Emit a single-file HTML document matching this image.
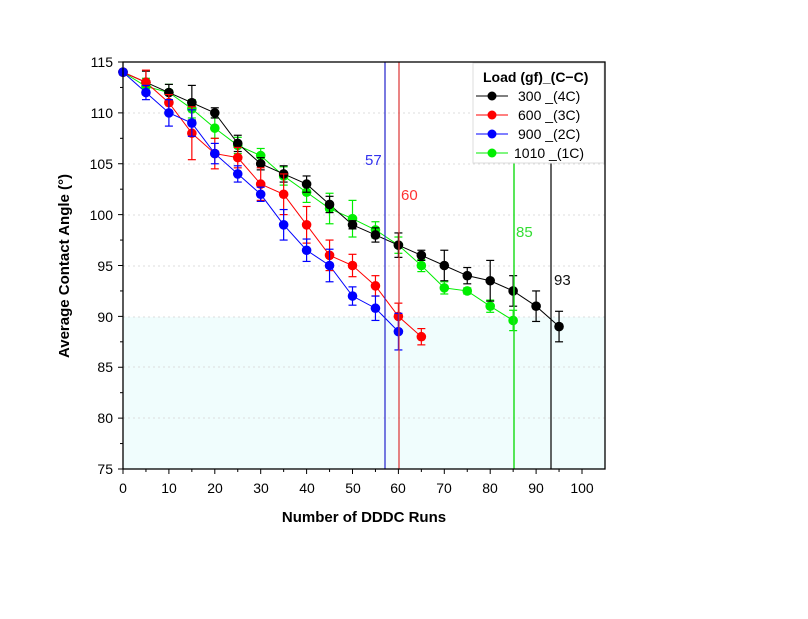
<!DOCTYPE html>
<html><head><meta charset="utf-8"><style>body{margin:0;background:#fff}svg{display:block}text{font-family:"Liberation Sans",sans-serif}</style></head>
<body>
<svg id="s" width="808" height="619" xmlns="http://www.w3.org/2000/svg">
<rect x="123" y="317" width="482" height="152" fill="#f0fdfd"/>
<g stroke="#ddd" stroke-dasharray="2,3" stroke-width="1">
<line x1="123" x2="605" y1="113" y2="113"/><line x1="123" x2="605" y1="164" y2="164"/><line x1="123" x2="605" y1="215" y2="215"/><line x1="123" x2="605" y1="266" y2="266"/><line x1="123" x2="605" y1="317" y2="317"/><line x1="123" x2="605" y1="367" y2="367"/><line x1="123" x2="605" y1="418" y2="418"/>
</g>
<g id="data"></g>
<g id="dots"></g>
<line x1="385" x2="385" y1="62" y2="469" stroke="#22c" stroke-width="1.2"/>
<line x1="399" x2="399" y1="62" y2="469" stroke="#d33" stroke-width="1.2"/>
<line x1="514" x2="514" y1="62" y2="469" stroke="#2d2" stroke-width="1.5"/>
<line x1="551" x2="551" y1="62" y2="469" stroke="#000" stroke-width="1.2"/>
<text x="365" y="165" font-size="15" fill="#33e">57</text>
<text x="401" y="200" font-size="15" fill="#f33">60</text>
<text x="516" y="237" font-size="15" fill="#3d3">85</text>
<text x="554" y="285" font-size="15" fill="#111">93</text>
<rect x="473" y="63" width="131" height="100" fill="#fff" stroke="#ddd"/>
<text x="483" y="82" font-size="14" font-weight="bold">Load (gf)_(C−C)</text>
<g font-size="14">
<line x1="476" x2="508" y1="96" y2="96" stroke="#000"/><circle cx="492" cy="96" r="4.5" fill="#000"/><text x="518" y="101">300 _(4C)</text>
<line x1="476" x2="508" y1="115" y2="115" stroke="#f00"/><circle cx="492" cy="115" r="4.5" fill="#f00"/><text x="518" y="120">600 _(3C)</text>
<line x1="476" x2="508" y1="134" y2="134" stroke="#00f"/><circle cx="492" cy="134" r="4.5" fill="#00f"/><text x="518" y="139">900 _(2C)</text>
<line x1="476" x2="508" y1="153" y2="153" stroke="#0e0"/><circle cx="492" cy="153" r="4.5" fill="#0e0"/><text x="514" y="158">1010 _(1C)</text>
</g>
<rect x="123" y="62" width="482" height="407" fill="none" stroke="#000" stroke-width="1.3"/>
<g id="ticks" stroke="#000"></g>
<g font-size="14" text-anchor="end">
<text x="113" y="67">115</text><text x="113" y="118">110</text><text x="113" y="169">105</text><text x="113" y="220">100</text><text x="113" y="271">95</text><text x="113" y="322">90</text><text x="113" y="372">85</text><text x="113" y="423">80</text><text x="113" y="474">75</text>
</g>
<g font-size="14" text-anchor="middle">
<text x="123" y="493">0</text><text x="169" y="493">10</text><text x="215" y="493">20</text><text x="261" y="493">30</text><text x="307" y="493">40</text><text x="353" y="493">50</text><text x="398" y="493">60</text><text x="444" y="493">70</text><text x="490" y="493">80</text><text x="536" y="493">90</text><text x="582" y="493">100</text>
</g>
<text x="364" y="522" font-size="15" font-weight="bold" text-anchor="middle">Number of DDDC Runs</text>
<text transform="translate(69,266) rotate(-90)" font-size="15" font-weight="bold" text-anchor="middle">Average Contact Angle (°)</text>
</svg>
<script>
var NS="http://www.w3.org/2000/svg";
function X(v){return 123+4.59*v}function Y(v){return 62+(115-v)*10.175}
function el(p,t,a){var e=document.createElementNS(NS,t);for(var k in a)e.setAttribute(k,a[k]);p.appendChild(e);return e}
var tk=document.getElementById('ticks');
for(var i=0;i<=100;i+=5){var l=i%10?3:5;el(tk,'line',{x1:X(i),x2:X(i),y1:469,y2:469+l})}
for(var v=75;v<=115;v+=2.5){var l=(v%5)?3:5;el(tk,'line',{x1:123-l,x2:123,y1:Y(v),y2:Y(v)})}
var S=[
["#0e0",[[0,114,0],[5,112.6,.8],[10,112,.8],[15,110.4,.9],[20,108.5,1],[25,106.8,.8],[30,105.8,.7],[35,103.8,.9],[40,102.2,1],[45,100.6,1.5],[50,99.6,1.8],[55,98.5,.8],[60,97,.8],[65,95,.6],[70,92.8,.6],[75,92.5,.3],[80,91,.6],[85,89.6,1]]],
["#000",[[0,114,0],[5,113,1.1],[10,112,.8],[15,111,1.7],[20,110,.5],[25,107,.8],[30,105,.6],[35,104,.8],[40,103,.8],[45,101,.8],[50,99,.4],[55,98,.7],[60,97,1.2],[65,96,.5],[70,95,1.5],[75,94,.8],[80,93.5,2],[85,92.5,1.5],[90,91,1.5],[95,89,1.5]]],
["#f00",[[0,114,0],[5,113,1.2],[10,111,.8],[15,108,2.6],[20,106,1.5],[25,105.6,1],[30,103,1.6],[35,102,2],[40,99,1.8],[45,96,1.5],[50,95,1.1],[55,93,1],[60,90,1.3],[65,88,.8]]],
["#00f",[[0,114,0],[5,112,.7],[10,110,1.3],[15,109,1.3],[20,106,1],[25,104,.8],[30,102,.7],[35,99,1.5],[40,96.5,1.1],[45,95,1.6],[50,92,.9],[55,90.8,1.2],[60,88.5,1.8]]]];
var g=document.getElementById('data'),d=document.getElementById('dots');
S.forEach(function(s){var c=s[0],p=s[1];
el(g,'polyline',{points:p.map(function(q){return X(q[0])+','+Y(q[1])}).join(' '),fill:'none',stroke:c,'stroke-width':1});
p.forEach(function(q){var x=X(q[0]);if(q[2]){var a=Y(q[1]+q[2]),b=Y(q[1]-q[2]);
el(d,'line',{x1:x,x2:x,y1:a,y2:b,stroke:c,'stroke-width':1.2});
el(d,'line',{x1:x-4,x2:x+4,y1:a,y2:a,stroke:c,'stroke-width':1.2});
el(d,'line',{x1:x-4,x2:x+4,y1:b,y2:b,stroke:c,'stroke-width':1.2});}
el(d,'circle',{cx:x,cy:Y(q[1]),r:4.8,fill:c});});});
</script>
</body></html>
